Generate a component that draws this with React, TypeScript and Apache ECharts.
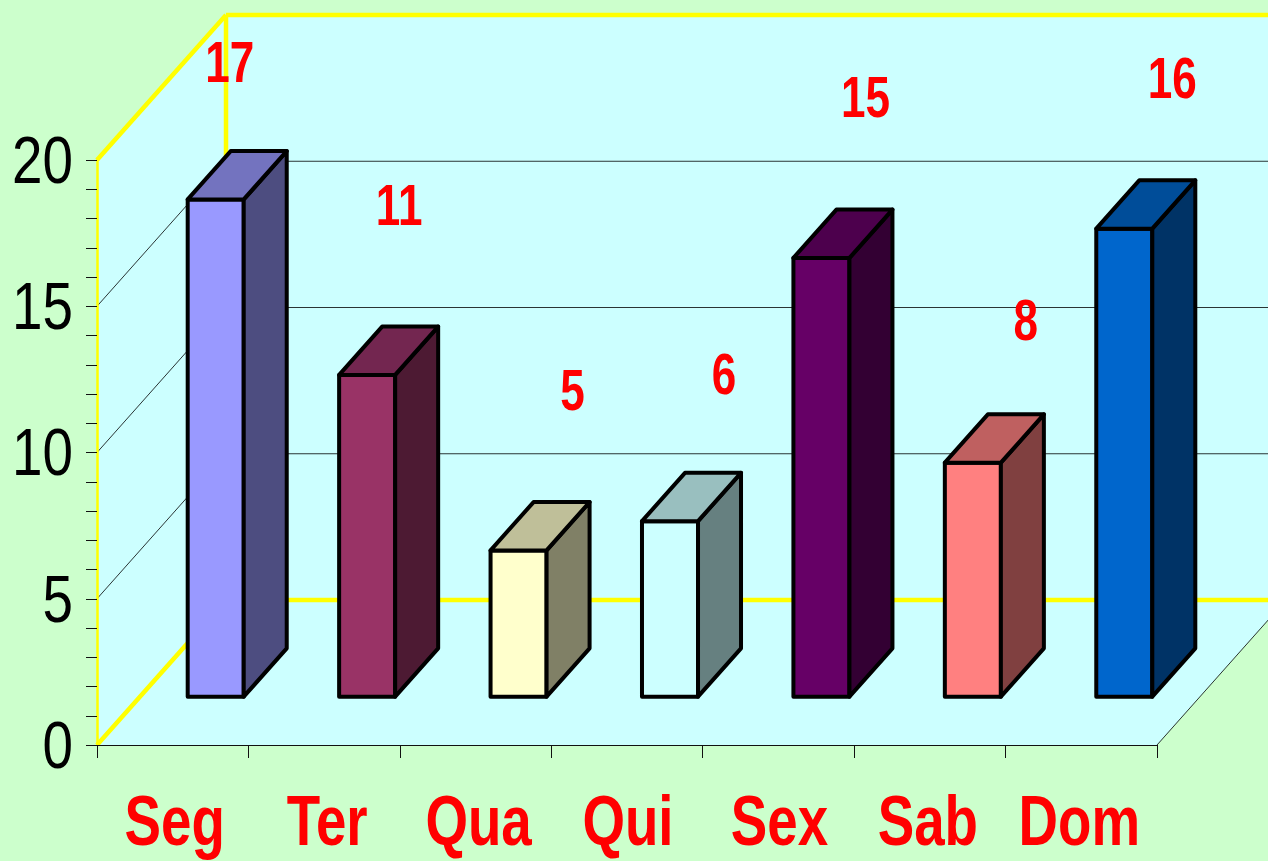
import React, { useEffect, useRef } from "react";
import * as echarts from "echarts";

const categories = ["Seg", "Ter", "Qua", "Qui", "Sex", "Sab", "Dom"];
const values = [17, 11, 5, 6, 15, 8, 16];
const yTicks = [0, 5, 10, 15, 20];
const frontColors = ["#9999FF", "#993366", "#FFFFCC", "#CCFFFF", "#660066", "#FF8080", "#0066CC"];
const sideColors = ["#4D4D80", "#4D1A33", "#808066", "#668080", "#330033", "#804040", "#003366"];
const topColors = ["#7373BF", "#732650", "#BFBF99", "#99BFBF", "#4D004D", "#BF6060", "#004D99"];
// Where each value label sits relative to the top-centre of its bar's front face (px).
const labelNudgeX = [14, 32, 54, 54, 44, 53, 48];
const labelNudgeY = [-138, -170, -161, -147, -161, -143, -151];
const categoryNudgeX = [2, 3, 3, 1, 1, -2, -2];

const WALL_DX = 129;
const WALL_DY = -145;
const BAR_PLANE = 1 / 3;
const BAR_DEPTH = 1 / 3;
const BAR_WIDTH_RATIO = 0.37;
const FONT = '"Liberation Sans", Arial, sans-serif';

const narrowText = (x: number, y: number, text: string, font: string, fill: string, align: string, scaleX: number) => ({
  type: "text",
  x,
  y,
  scaleX,
  style: { x: 0, y: 0, text, font, fill, align, verticalAlign: "middle" },
});

const renderScene = (params: any, api: any) => {
  const cs = params.coordSys;
  const L = cs.x;
  const R = cs.x + cs.width;
  const B = api.coord([0, 0])[1];
  const T = api.coord([0, 20])[1];
  const poly = (points: number[][], fill: string) => ({
    type: "polygon",
    shape: { points },
    style: { fill, stroke: "none" },
  });
  const line = (a: number[], b: number[], stroke: string, lineWidth: number) => ({
    type: "line",
    shape: { x1: a[0], y1: a[1], x2: b[0], y2: b[1] },
    style: { stroke, lineWidth },
  });
  const wall = "#CCFFFF";
  const children: any[] = [
    poly([[L + WALL_DX, T + WALL_DY], [R + WALL_DX, T + WALL_DY], [R + WALL_DX, B + WALL_DY], [L + WALL_DX, B + WALL_DY]], wall),
    poly([[L, T], [L + WALL_DX, T + WALL_DY], [L + WALL_DX, B + WALL_DY], [L, B]], wall),
    poly([[L, B], [R, B], [R + WALL_DX, B + WALL_DY], [L + WALL_DX, B + WALL_DY]], wall),
  ];
  [5, 10, 15].forEach((v) => {
    const y = api.coord([0, v])[1];
    children.push(line([L, y], [L + WALL_DX, y + WALL_DY], "#000000", 0.8));
    children.push(line([L + WALL_DX, y + WALL_DY], [R + WALL_DX, y + WALL_DY], "#000000", 0.8));
  });
  children.push(line([R, B], [R + WALL_DX, B + WALL_DY], "#000000", 0.8));
  children.push(line([L, T], [L + WALL_DX, T + WALL_DY], "#FFFF00", 4.5));
  children.push(line([L + WALL_DX, T + WALL_DY], [R + WALL_DX, T + WALL_DY], "#FFFF00", 4.5));
  children.push(line([L + WALL_DX, T + WALL_DY], [L + WALL_DX, B + WALL_DY], "#FFFF00", 4.5));
  children.push(line([L, B], [L + WALL_DX, B + WALL_DY], "#FFFF00", 4.5));
  children.push(line([L + WALL_DX, B + WALL_DY], [R + WALL_DX, B + WALL_DY], "#FFFF00", 4.5));
  yTicks.forEach((v) => {
    children.push(narrowText(L - 24, api.coord([0, v])[1], String(v), `66px ${FONT}`, "#000000", "right", 0.83));
  });
  categories.forEach((c, i) => {
    children.push(
      narrowText(api.coord([i, 0])[0] + categoryNudgeX[i], B + 75, c, `bold 71px ${FONT}`, "#FF0000", "center", 0.77),
    );
  });
  return { type: "group", children };
};

const renderBar = (params: any, api: any) => {
  const i = api.value(0);
  const v = api.value(1);
  const base = api.coord([i, 0]);
  const top = api.coord([i, v]);
  const bandW = api.size([1, 0])[0];
  const w = bandW * BAR_WIDTH_RATIO;
  const px = WALL_DX * BAR_PLANE;
  const py = WALL_DY * BAR_PLANE;
  const dx = WALL_DX * BAR_DEPTH;
  const dy = WALL_DY * BAR_DEPTH;
  const x0 = base[0] + px - w / 2;
  const x1 = x0 + w;
  const yb = base[1] + py;
  const yt = top[1] + py;
  const outline = { stroke: "#000000", lineWidth: 4, lineJoin: "round" };
  return {
    type: "group",
    children: [
      {
        type: "polygon",
        shape: { points: [[x0, yb], [x1, yb], [x1, yt], [x0, yt]] },
        style: { fill: frontColors[i], ...outline },
      },
      {
        type: "polygon",
        shape: { points: [[x1, yb], [x1 + dx, yb + dy], [x1 + dx, yt + dy], [x1, yt]] },
        style: { fill: sideColors[i], ...outline },
      },
      {
        type: "polygon",
        shape: { points: [[x0, yt], [x1, yt], [x1 + dx, yt + dy], [x0 + dx, yt + dy]] },
        style: { fill: topColors[i], ...outline },
      },
      narrowText(
        x0 + w / 2 + labelNudgeX[i],
        yt + labelNudgeY[i],
        String(v),
        `bold 58px ${FONT}`,
        "#FF0000",
        "center",
        0.76,
      ),
    ],
  };
};

export default function App() {
  const ref = useRef<HTMLDivElement>(null);
  useEffect(() => {
    document.body.style.margin = "0";
    document.body.style.overflow = "hidden";
    const chart = echarts.init(ref.current!, undefined, { renderer: "svg" });
    chart.setOption({
      animation: false,
      backgroundColor: "#CCFFCC",
      grid: { left: 97, right: 111, top: 160, bottom: 116, containLabel: false },
      xAxis: {
        type: "category",
        data: categories,
        boundaryGap: true,
        z: 5,
        axisLine: { lineStyle: { color: "#111111", width: 1 } },
        axisTick: { show: true, length: 13, lineStyle: { color: "#111111", width: 1 } },
        axisLabel: { show: false },
      },
      yAxis: {
        type: "value",
        min: 0,
        max: 20,
        interval: 5,
        z: 5,
        splitLine: { show: false },
        axisLine: { show: true, lineStyle: { color: "#FFFF00", width: 2.5 } },
        axisTick: { show: true, length: 11, lineStyle: { color: "#111111", width: 1 } },
        minorTick: { show: true, splitNumber: 5, length: 11, lineStyle: { color: "#111111", width: 1 } },
        axisLabel: { show: false },
      },
      series: [
        { type: "custom", data: [[0, 0]], encode: { x: 0, y: 1 }, renderItem: renderScene, silent: true, z: 1 },
        {
          type: "custom",
          data: values.map((v, i) => [i, v]),
          encode: { x: 0, y: 1 },
          renderItem: renderBar,
          silent: true,
          z: 10,
        },
      ],
    });
    return () => chart.dispose();
  }, []);
  return <div ref={ref} style={{ width: 1268, height: 861 }} />;
}
